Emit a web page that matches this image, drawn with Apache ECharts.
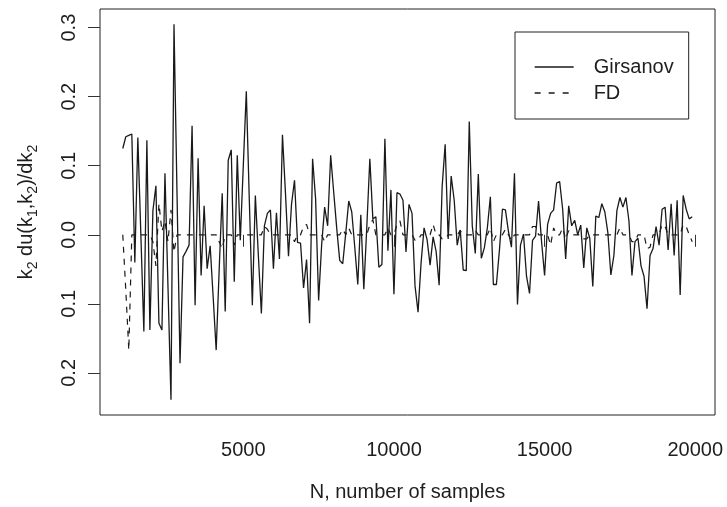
<!DOCTYPE html>
<html>
<head>
<meta charset="utf-8">
<script src="https://cdn.jsdelivr.net/npm/echarts@6.0.0/dist/echarts.min.js"></script>
<style>
html,body{margin:0;padding:0;background:#fff;}
#chart{width:727px;height:507px;}
</style>
</head>
<body>
<div id="chart"></div>
<script>
// Sample sizes N
const nSamples = [
  1000,1100,1200,1300,1400,1500,1600,1700,1800,1900,
  2000,2100,2200,2300,2400,2500,2600,2700,2800,2900,
  3000,3100,3200,3300,3400,3500,3600,3700,3800,3900,
  4000,4100,4200,4300,4400,4500,4600,4700,4800,4900,
  5000,5100,5200,5300,5400,5500,5600,5700,5800,5900,
  6000,6100,6200,6300,6400,6500,6600,6700,6800,6900,
  7000,7100,7200,7300,7400,7500,7600,7700,7800,7900,
  8000,8100,8200,8300,8400,8500,8600,8700,8800,8900,
  9000,9100,9200,9300,9400,9500,9600,9700,9800,9900,
  10000,10100,10200,10300,10400,10500,10600,10700,10800,10900,
  11000,11100,11200,11300,11400,11500,11600,11700,11800,11900,
  12000,12100,12200,12300,12400,12500,12600,12700,12800,12900,
  13000,13100,13200,13300,13400,13500,13600,13700,13800,13900,
  14000,14100,14200,14300,14400,14500,14600,14700,14800,14900,
  15000,15100,15200,15300,15400,15500,15600,15700,15800,15900,
  16000,16100,16200,16300,16400,16500,16600,16700,16800,16900,
  17000,17100,17200,17300,17400,17500,17600,17700,17800,17900,
  18000,18100,18200,18300,18400,18500,18600,18700,18800,18900,
  19000,19100,19200,19300,19400,19500,19600,19700,19800,19900
];

const girsanov = [
  0.125, 0.142, 0.144, 0.146, -0.040, 0.141, 0.000, -0.140, 0.137, -0.138,
  0.035, 0.071, -0.128, -0.138, 0.089, -0.075, -0.239, 0.305, 0.060, -0.186,
  -0.032, -0.024, -0.015, 0.158, -0.102, 0.111, -0.059, 0.042, -0.049, -0.016,
  -0.090, -0.167, -0.050, 0.060, -0.111, 0.108, 0.123, -0.068, 0.115, -0.008,
  0.100, 0.208, 0.050, -0.102, 0.057, -0.030, -0.114, 0.013, 0.031, 0.036,
  -0.049, 0.032, -0.035, 0.145, 0.060, -0.031, 0.044, 0.079, -0.011, -0.012,
  -0.077, -0.036, -0.128, 0.110, 0.052, -0.095, -0.015, 0.040, 0.013, 0.115,
  0.062, 0.010, -0.037, -0.042, 0.002, 0.049, 0.033, -0.018, -0.072, 0.029,
  -0.079, 0.012, 0.110, 0.023, 0.026, -0.047, -0.043, 0.139, -0.023, 0.065,
  -0.086, 0.061, 0.059, 0.050, -0.025, 0.044, 0.031, -0.074, -0.112, -0.041,
  0.010, -0.007, -0.044, -0.003, -0.024, -0.073, 0.070, 0.131, -0.006, 0.085,
  0.050, -0.015, 0.007, -0.051, -0.052, 0.164, 0.013, -0.027, 0.088, -0.034,
  -0.019, 0.010, 0.055, -0.072, -0.072, -0.023, 0.037, 0.036, 0.005, -0.018,
  0.089, -0.101, -0.015, 0.001, -0.060, -0.085, -0.008, -0.002, 0.049, -0.010,
  -0.059, 0.015, 0.031, 0.036, 0.075, 0.077, 0.037, -0.035, 0.042, 0.013,
  0.021, 0.000, 0.014, -0.048, 0.010, -0.005, -0.075, 0.027, 0.025, 0.045,
  0.033, 0.003, -0.058, -0.030, 0.035, 0.054, 0.040, 0.054, 0.020, -0.059,
  -0.010, -0.005, -0.045, -0.060, -0.107, -0.030, -0.020, 0.012, -0.015, 0.037,
  0.040, -0.022, 0.045, -0.030, 0.050, -0.087, 0.057, 0.037, 0.023, 0.026
];

const fd = [
  0, -0.080, -0.167, 0, 0, 0, 0, 0, 0, 0,
  -0.010, -0.045, 0.045, 0.005, 0.020, -0.010, 0.036, -0.025, 0, 0,
  0, 0, 0, 0, 0, 0, 0, 0, 0, 0,
  0, 0, -0.010, -0.020, 0, 0, 0, -0.015, 0, 0,
  0, 0, 0, 0, 0, 0, 0, 0.012, 0.008, 0,
  0, 0, 0, 0, 0, 0, 0, -0.010, 0, 0,
  0.012, 0.015, 0, 0, 0, 0, 0, -0.010, 0, 0,
  0, 0, 0, 0.008, 0, 0.010, 0, 0, 0, 0,
  0, 0, 0.015, 0.022, 0, 0, 0, 0, 0.010, 0,
  0, 0.015, 0.020, 0, 0, 0, 0, -0.008, -0.008, 0,
  0, 0, 0, 0.015, 0, 0, -0.006, -0.006, 0, 0,
  0, 0, 0.006, 0, 0, 0, 0, 0.006, 0, 0,
  0, 0, 0.010, -0.010, 0, 0, 0, 0.008, 0, -0.008,
  0, 0, 0, 0, 0, 0, 0.012, 0.012, 0, 0,
  0, 0, -0.015, 0.010, 0, 0, 0.010, -0.006, 0.006, 0,
  0, 0, 0, -0.006, -0.006, 0, 0, 0, 0, 0,
  0, 0, 0, 0, 0, 0.010, 0, 0, 0, -0.010,
  -0.010, 0, 0, 0, -0.020, -0.018, 0, 0, 0, 0.015,
  0.012, 0, 0, 0, 0, 0, 0.015, 0.012, 0, -0.010
];

const xTicks = [5000, 10000, 15000, 20000];
const yTicks = [-0.2, -0.1, 0, 0.1, 0.2, 0.3];
const seriesNames = ['Girsanov', 'FD'];
const xTitle = 'N, number of samples';

const FONT = 'Liberation Sans, Arial, Helvetica, sans-serif';
const INK = '#1e1e1e';

const chart = echarts.init(document.getElementById('chart'), null, {renderer: 'canvas'});

chart.setOption({
  animation: false,
  backgroundColor: '#ffffff',
  textStyle: {fontFamily: FONT, color: INK},
  grid: {
    left: 100, right: 12, top: 9, bottom: 90,
    show: true, borderColor: '#222', borderWidth: 1, backgroundColor: 'transparent'
  },
  legend: {
    data: [
      {name: seriesNames[0], lineStyle: {color: '#1a1a1a', width: 1.3}},
      {name: seriesNames[1], lineStyle: {color: '#1a1a1a', type: [6, 8], width: 1.3}}
    ],
    orient: 'vertical',
    left: 515, top: 32,
    itemWidth: 39, itemHeight: 14, itemGap: 6,
    padding: [25, 15, 16, 19],
    borderColor: '#222', borderWidth: 1,
    selectedMode: false,
    itemStyle: {opacity: 0},
    textStyle: {fontFamily: FONT, fontSize: 20, color: INK, padding: [0, 0, 0, 15]}
  },
  xAxis: {
    type: 'value',
    min: 244, max: 20656,
    axisLine: {show: false},
    splitLine: {show: false},
    axisTick: {show: true, length: 12, customValues: xTicks, lineStyle: {color: '#333', width: 1}},
    axisLabel: {
      customValues: xTicks, margin: 25, fontSize: 20, color: INK, fontFamily: FONT,
      formatter: function (v) { return String(Math.round(v)); }
    },
    name: xTitle,
    nameLocation: 'middle',
    nameGap: 67,
    nameTextStyle: {fontSize: 20, color: INK, fontFamily: FONT}
  },
  yAxis: {
    type: 'value',
    min: -0.261, max: 0.327,
    axisLine: {show: false},
    splitLine: {show: false},
    axisTick: {show: true, length: 12, customValues: yTicks, lineStyle: {color: '#333', width: 1}},
    axisLabel: {
      customValues: yTicks, rotate: 90, margin: 21, fontSize: 20, color: INK, fontFamily: FONT,
      formatter: function (v) { return Math.abs(v).toFixed(1); }
    },
    name: '{m|k}{s|2}{m| du(k}{s|1}{m|,k}{s|2}{m|)/dk}{s|2}',
    nameLocation: 'middle',
    nameRotate: 90,
    nameGap: 60,
    nameTextStyle: {
      color: INK, fontFamily: FONT,
      rich: {
        m: {fontSize: 20, lineHeight: 28, color: INK, fontFamily: FONT},
        s: {fontSize: 14, lineHeight: 14, verticalAlign: 'bottom', color: INK, fontFamily: FONT}
      }
    }
  },
  series: [
    {
      name: seriesNames[0],
      type: 'line',
      symbol: 'none',
      data: nSamples.map((n, i) => [n, girsanov[i]]),
      lineStyle: {color: '#1a1a1a', width: 1.3, type: 'solid'},
      itemStyle: {color: '#1a1a1a'},
      z: 3
    },
    {
      name: seriesNames[1],
      type: 'line',
      symbol: 'none',
      data: nSamples.map((n, i) => [n, fd[i]]),
      lineStyle: {color: '#1a1a1a', width: 1.2, type: [6, 6]},
      itemStyle: {color: '#1a1a1a'},
      z: 2
    }
  ]
});
</script>
</body>
</html>
